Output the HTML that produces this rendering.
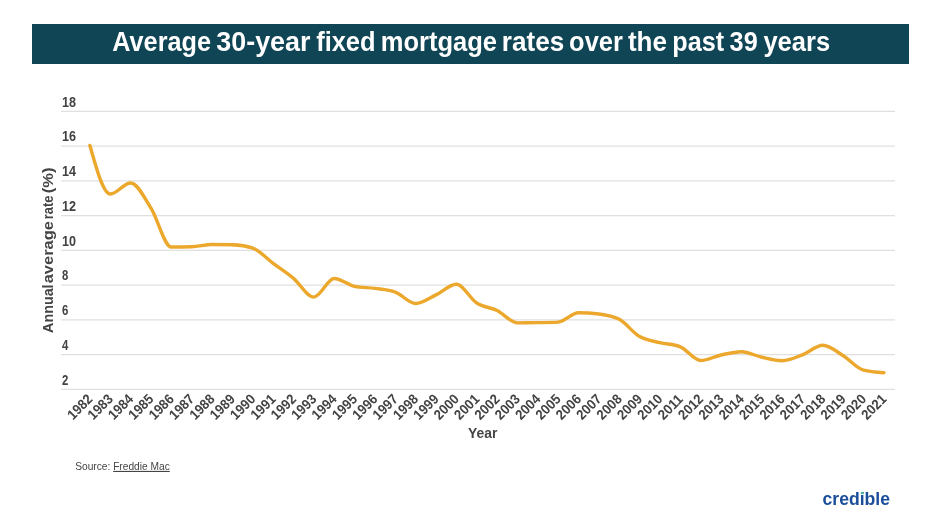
<!DOCTYPE html>
<html><head><meta charset="utf-8"><style>
html,body{margin:0;padding:0;background:#fff;width:932px;height:524px;overflow:hidden}
svg{display:block;filter:blur(0.3px)}
text{font-family:"Liberation Sans",sans-serif}
.g{stroke:#e0e0e0;stroke-width:1.3}
.yl{font-size:14.8px;fill:#424242;font-weight:bold}
.xl{font-size:14px;fill:#434343;font-weight:bold}
</style></head><body>
<svg width="932" height="524" viewBox="0 0 932 524">
<rect x="32" y="24" width="877" height="40" fill="#104555"/>
<text x="112.28" y="50.6" font-size="27" font-weight="bold" fill="#fff" textLength="98.68" lengthAdjust="spacingAndGlyphs">Average</text>
<text x="216.28" y="50.6" font-size="27" font-weight="bold" fill="#fff" textLength="94.22" lengthAdjust="spacingAndGlyphs">30-year</text>
<text x="316.16" y="50.6" font-size="27" font-weight="bold" fill="#fff" textLength="59.41" lengthAdjust="spacingAndGlyphs">fixed</text>
<text x="380.82" y="50.6" font-size="27" font-weight="bold" fill="#fff" textLength="116.25" lengthAdjust="spacingAndGlyphs">mortgage</text>
<text x="501.78" y="50.6" font-size="27" font-weight="bold" fill="#fff" textLength="62.39" lengthAdjust="spacingAndGlyphs">rates</text>
<text x="569.11" y="50.6" font-size="27" font-weight="bold" fill="#fff" textLength="53.68" lengthAdjust="spacingAndGlyphs">over</text>
<text x="627.88" y="50.6" font-size="27" font-weight="bold" fill="#fff" textLength="39.01" lengthAdjust="spacingAndGlyphs">the</text>
<text x="672.24" y="50.6" font-size="27" font-weight="bold" fill="#fff" textLength="51.87" lengthAdjust="spacingAndGlyphs">past</text>
<text x="729.62" y="50.6" font-size="27" font-weight="bold" fill="#fff" textLength="28.12" lengthAdjust="spacingAndGlyphs">39</text>
<text x="763.40" y="50.6" font-size="27" font-weight="bold" fill="#fff" textLength="66.75" lengthAdjust="spacingAndGlyphs">years</text>

<line x1="61" y1="389.40" x2="895" y2="389.40" class="g"/>
<line x1="61" y1="354.64" x2="895" y2="354.64" class="g"/>
<line x1="61" y1="319.88" x2="895" y2="319.88" class="g"/>
<line x1="61" y1="285.12" x2="895" y2="285.12" class="g"/>
<line x1="61" y1="250.36" x2="895" y2="250.36" class="g"/>
<line x1="61" y1="215.60" x2="895" y2="215.60" class="g"/>
<line x1="61" y1="180.84" x2="895" y2="180.84" class="g"/>
<line x1="61" y1="146.08" x2="895" y2="146.08" class="g"/>
<line x1="61" y1="111.32" x2="895" y2="111.32" class="g"/>

<text x="62" y="384.60" class="yl" textLength="6.3" lengthAdjust="spacingAndGlyphs">2</text>
<text x="62" y="349.84" class="yl" textLength="6.3" lengthAdjust="spacingAndGlyphs">4</text>
<text x="62" y="315.08" class="yl" textLength="6.3" lengthAdjust="spacingAndGlyphs">6</text>
<text x="62" y="280.32" class="yl" textLength="6.3" lengthAdjust="spacingAndGlyphs">8</text>
<text x="62" y="245.56" class="yl" textLength="14" lengthAdjust="spacingAndGlyphs">10</text>
<text x="62" y="210.80" class="yl" textLength="14" lengthAdjust="spacingAndGlyphs">12</text>
<text x="62" y="176.04" class="yl" textLength="14" lengthAdjust="spacingAndGlyphs">14</text>
<text x="62" y="141.28" class="yl" textLength="14" lengthAdjust="spacingAndGlyphs">16</text>
<text x="62" y="106.52" class="yl" textLength="14" lengthAdjust="spacingAndGlyphs">18</text>

<g transform="translate(52.9,340) rotate(-90)"><text x="7.04" y="0" font-size="14.6" font-weight="bold" fill="#444" textLength="48.57" lengthAdjust="spacingAndGlyphs">Annual</text><text x="56.72" y="0" font-size="14.6" font-weight="bold" fill="#444" textLength="62.14" lengthAdjust="spacingAndGlyphs">average</text><text x="120.85" y="0" font-size="14.6" font-weight="bold" fill="#444" textLength="23.69" lengthAdjust="spacingAndGlyphs">rate</text><text x="146.68" y="0" font-size="14.6" font-weight="bold" fill="#444" textLength="25.75" lengthAdjust="spacingAndGlyphs">(%)</text></g>
<text transform="translate(93.40,400) rotate(-45)" class="xl" text-anchor="end" textLength="28.9" lengthAdjust="spacingAndGlyphs">1982</text>
<text transform="translate(113.76,400) rotate(-45)" class="xl" text-anchor="end" textLength="28.9" lengthAdjust="spacingAndGlyphs">1983</text>
<text transform="translate(134.12,400) rotate(-45)" class="xl" text-anchor="end" textLength="28.9" lengthAdjust="spacingAndGlyphs">1984</text>
<text transform="translate(154.48,400) rotate(-45)" class="xl" text-anchor="end" textLength="28.9" lengthAdjust="spacingAndGlyphs">1985</text>
<text transform="translate(174.84,400) rotate(-45)" class="xl" text-anchor="end" textLength="28.9" lengthAdjust="spacingAndGlyphs">1986</text>
<text transform="translate(195.20,400) rotate(-45)" class="xl" text-anchor="end" textLength="28.9" lengthAdjust="spacingAndGlyphs">1987</text>
<text transform="translate(215.56,400) rotate(-45)" class="xl" text-anchor="end" textLength="28.9" lengthAdjust="spacingAndGlyphs">1988</text>
<text transform="translate(235.92,400) rotate(-45)" class="xl" text-anchor="end" textLength="28.9" lengthAdjust="spacingAndGlyphs">1989</text>
<text transform="translate(256.28,400) rotate(-45)" class="xl" text-anchor="end" textLength="28.9" lengthAdjust="spacingAndGlyphs">1990</text>
<text transform="translate(276.64,400) rotate(-45)" class="xl" text-anchor="end" textLength="28.9" lengthAdjust="spacingAndGlyphs">1991</text>
<text transform="translate(297.00,400) rotate(-45)" class="xl" text-anchor="end" textLength="28.9" lengthAdjust="spacingAndGlyphs">1992</text>
<text transform="translate(317.36,400) rotate(-45)" class="xl" text-anchor="end" textLength="28.9" lengthAdjust="spacingAndGlyphs">1993</text>
<text transform="translate(337.72,400) rotate(-45)" class="xl" text-anchor="end" textLength="28.9" lengthAdjust="spacingAndGlyphs">1994</text>
<text transform="translate(358.08,400) rotate(-45)" class="xl" text-anchor="end" textLength="28.9" lengthAdjust="spacingAndGlyphs">1995</text>
<text transform="translate(378.44,400) rotate(-45)" class="xl" text-anchor="end" textLength="28.9" lengthAdjust="spacingAndGlyphs">1996</text>
<text transform="translate(398.80,400) rotate(-45)" class="xl" text-anchor="end" textLength="28.9" lengthAdjust="spacingAndGlyphs">1997</text>
<text transform="translate(419.16,400) rotate(-45)" class="xl" text-anchor="end" textLength="28.9" lengthAdjust="spacingAndGlyphs">1998</text>
<text transform="translate(439.52,400) rotate(-45)" class="xl" text-anchor="end" textLength="28.9" lengthAdjust="spacingAndGlyphs">1999</text>
<text transform="translate(459.88,400) rotate(-45)" class="xl" text-anchor="end" textLength="28.9" lengthAdjust="spacingAndGlyphs">2000</text>
<text transform="translate(480.24,400) rotate(-45)" class="xl" text-anchor="end" textLength="28.9" lengthAdjust="spacingAndGlyphs">2001</text>
<text transform="translate(500.60,400) rotate(-45)" class="xl" text-anchor="end" textLength="28.9" lengthAdjust="spacingAndGlyphs">2002</text>
<text transform="translate(520.96,400) rotate(-45)" class="xl" text-anchor="end" textLength="28.9" lengthAdjust="spacingAndGlyphs">2003</text>
<text transform="translate(541.32,400) rotate(-45)" class="xl" text-anchor="end" textLength="28.9" lengthAdjust="spacingAndGlyphs">2004</text>
<text transform="translate(561.68,400) rotate(-45)" class="xl" text-anchor="end" textLength="28.9" lengthAdjust="spacingAndGlyphs">2005</text>
<text transform="translate(582.04,400) rotate(-45)" class="xl" text-anchor="end" textLength="28.9" lengthAdjust="spacingAndGlyphs">2006</text>
<text transform="translate(602.40,400) rotate(-45)" class="xl" text-anchor="end" textLength="28.9" lengthAdjust="spacingAndGlyphs">2007</text>
<text transform="translate(622.76,400) rotate(-45)" class="xl" text-anchor="end" textLength="28.9" lengthAdjust="spacingAndGlyphs">2008</text>
<text transform="translate(643.12,400) rotate(-45)" class="xl" text-anchor="end" textLength="28.9" lengthAdjust="spacingAndGlyphs">2009</text>
<text transform="translate(663.48,400) rotate(-45)" class="xl" text-anchor="end" textLength="28.9" lengthAdjust="spacingAndGlyphs">2010</text>
<text transform="translate(683.84,400) rotate(-45)" class="xl" text-anchor="end" textLength="28.9" lengthAdjust="spacingAndGlyphs">2011</text>
<text transform="translate(704.20,400) rotate(-45)" class="xl" text-anchor="end" textLength="28.9" lengthAdjust="spacingAndGlyphs">2012</text>
<text transform="translate(724.56,400) rotate(-45)" class="xl" text-anchor="end" textLength="28.9" lengthAdjust="spacingAndGlyphs">2013</text>
<text transform="translate(744.92,400) rotate(-45)" class="xl" text-anchor="end" textLength="28.9" lengthAdjust="spacingAndGlyphs">2014</text>
<text transform="translate(765.28,400) rotate(-45)" class="xl" text-anchor="end" textLength="28.9" lengthAdjust="spacingAndGlyphs">2015</text>
<text transform="translate(785.64,400) rotate(-45)" class="xl" text-anchor="end" textLength="28.9" lengthAdjust="spacingAndGlyphs">2016</text>
<text transform="translate(806.00,400) rotate(-45)" class="xl" text-anchor="end" textLength="28.9" lengthAdjust="spacingAndGlyphs">2017</text>
<text transform="translate(826.36,400) rotate(-45)" class="xl" text-anchor="end" textLength="28.9" lengthAdjust="spacingAndGlyphs">2018</text>
<text transform="translate(846.72,400) rotate(-45)" class="xl" text-anchor="end" textLength="28.9" lengthAdjust="spacingAndGlyphs">2019</text>
<text transform="translate(867.08,400) rotate(-45)" class="xl" text-anchor="end" textLength="28.9" lengthAdjust="spacingAndGlyphs">2020</text>
<text transform="translate(887.44,400) rotate(-45)" class="xl" text-anchor="end" textLength="28.9" lengthAdjust="spacingAndGlyphs">2021</text>

<text x="468.1" y="438.3" font-size="15" font-weight="bold" fill="#454545" textLength="29.4" lengthAdjust="spacingAndGlyphs">Year</text>
<path d="M89.90,145.38 C96.69,169.72 103.47,194.05 110.26,194.05 C117.05,194.05 123.83,182.93 130.62,182.93 C137.41,182.93 144.19,197.44 150.98,208.13 C157.77,218.82 164.55,247.06 171.34,247.06 C178.13,247.06 184.91,246.94 191.70,246.71 C198.49,246.48 205.27,244.45 212.06,244.45 C218.85,244.45 225.63,244.57 232.42,244.80 C239.21,245.03 245.99,245.90 252.78,248.10 C259.57,250.30 266.35,258.35 273.14,263.39 C279.93,268.44 286.71,272.72 293.50,278.34 C300.29,283.96 307.07,297.11 313.86,297.11 C320.65,297.11 327.43,278.52 334.22,278.52 C341.01,278.52 347.79,284.95 354.58,286.34 C361.37,287.73 368.15,287.47 374.94,288.42 C381.73,289.38 388.51,289.64 395.30,292.07 C402.09,294.51 408.87,303.54 415.66,303.54 C422.45,303.54 429.23,298.07 436.02,294.85 C442.81,291.64 449.59,284.25 456.38,284.25 C463.17,284.25 469.95,298.65 476.74,303.02 C483.53,307.40 490.31,307.19 497.10,310.49 C503.89,313.80 510.67,322.83 517.46,322.83 C524.25,322.83 531.03,322.78 537.82,322.66 C544.61,322.54 551.39,322.49 558.18,322.14 C564.97,321.79 571.75,312.75 578.54,312.75 C585.33,312.75 592.11,313.16 598.90,313.97 C605.69,314.78 612.47,315.77 619.26,319.36 C626.05,322.95 632.83,332.68 639.62,336.56 C646.41,340.45 653.19,340.94 659.98,342.65 C666.77,344.36 673.55,344.04 680.34,346.82 C687.13,349.60 693.91,360.55 700.70,360.55 C707.49,360.55 714.27,356.46 721.06,354.99 C727.85,353.51 734.63,351.69 741.42,351.69 C748.21,351.69 754.99,355.74 761.78,357.25 C768.57,358.75 775.35,360.72 782.14,360.72 C788.93,360.72 795.71,357.39 802.50,354.81 C809.29,352.24 816.07,345.25 822.86,345.25 C829.65,345.25 836.43,351.54 843.22,355.68 C850.01,359.83 856.79,368.37 863.58,370.11 C870.37,371.85 877.15,372.28 883.94,372.72" fill="none" stroke="#eba82c" stroke-width="3.4" stroke-linecap="round" stroke-linejoin="round"/>
<text x="75.2" y="469.9" font-size="11" fill="#444" textLength="94.6" lengthAdjust="spacingAndGlyphs">Source: <tspan text-decoration="underline">Freddie Mac</tspan></text>
<text x="822.5" y="505" font-size="18.2" font-weight="bold" fill="#1b4e9a" textLength="67.5" lengthAdjust="spacingAndGlyphs">credible</text>
<rect x="860.9" y="491.9" width="3" height="2.2" fill="#52b09a"/>
</svg>
</body></html>
